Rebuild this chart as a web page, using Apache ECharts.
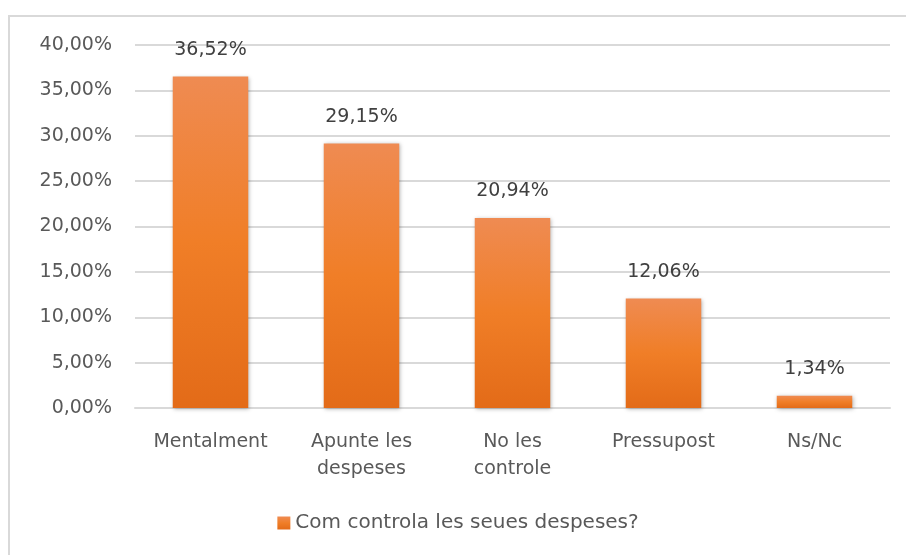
<!DOCTYPE html>
<html>
<head>
<meta charset="utf-8">
<script src="https://cdn.jsdelivr.net/npm/echarts@6/dist/echarts.min.js"></script>
<style>
	html, body { margin: 0; padding: 0; background: #fff; }
	#frame {
		position: absolute; left: 8px; top: 15px; width: 898px; height: 540px;
		border-top: 2px solid #D9D9D9; border-left: 2px solid #D9D9D9;
		box-sizing: border-box;
	}
	#main { width: 100%; height: 100%; }
</style>
</head>
<body>
<div id="frame"><div id="main"></div></div>
<script>
// categories and values (percent)
let categories = ['Mentalment', 'Apunte les\ndespeses', 'No les\ncontrole', 'Pressupost', 'Ns/Nc']
let values = [36.52, 29.15, 20.94, 12.06, 1.34]
let seriesName = 'Com controla les seues despeses?'
let yTicks = [0, 5, 10, 15, 20, 25, 30, 35, 40]

let font = '"DejaVu Sans", sans-serif'
let pct = v => v.toFixed(2).replace('.', ',') + '%'

let chart = echarts.init(document.getElementById('main'))
chart.setOption({
	animation: false,
	textStyle: { fontFamily: font },
	grid: { left: 125, right: 16, top: 28, bottom: 147 },
	legend: {
		bottom: 17,
		left: 'center',
		icon: 'rect',
		itemWidth: 13,
		itemHeight: 13,
		itemGap: 8,
		textStyle: { fontSize: 20, color: '#595959', fontFamily: font },
		data: [seriesName]
	},
	xAxis: {
		type: 'category',
		data: categories,
		axisLine: { lineStyle: { color: '#D9D9D9', width: 2 } },
		axisTick: { show: false },
		axisLabel: { fontSize: 19, color: '#595959', lineHeight: 27, margin: 21, interval: 0 }
	},
	yAxis: {
		type: 'value',
		min: yTicks[0],
		max: yTicks[yTicks.length - 1],
		interval: 5,
		axisLine: { show: false },
		axisTick: { show: false },
		splitLine: { lineStyle: { color: '#D9D9D9', width: 2 } },
		axisLabel: { fontSize: 19, color: '#595959', margin: 23, formatter: pct }
	},
	series: [{
		name: seriesName,
		type: 'bar',
		data: values,
		barWidth: '50%',
		itemStyle: {
			color: new echarts.graphic.LinearGradient(0, 0, 0, 1, [
				{ offset: 0, color: '#EF8B52' },
				{ offset: 0.5, color: '#F07E27' },
				{ offset: 1, color: '#E36B18' }
			]),
			shadowBlur: 4,
			shadowColor: 'rgba(0,0,0,0.3)',
			shadowOffsetX: 1,
			shadowOffsetY: 1
		},
		label: {
			show: true,
			position: 'top',
			distance: 17,
			fontSize: 19,
			color: '#404040',
			formatter: p => pct(p.value)
		}
	}]
})
</script>
</body>
</html>
